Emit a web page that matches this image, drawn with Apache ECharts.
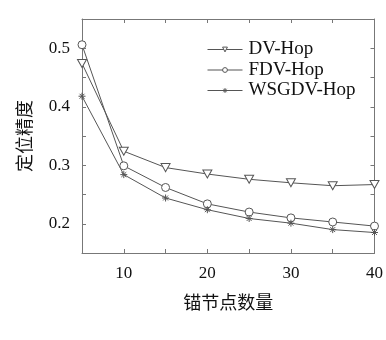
<!DOCTYPE html>
<html>
<head>
<meta charset="utf-8">
<script src="https://cdn.jsdelivr.net/npm/echarts@6/dist/echarts.min.js"></script>
<style>
  html, body { margin: 0; padding: 0; background: #fff; }
  #main { width: 386px; height: 340px; }
</style>
</head>
<body>
<div id="main"></div>
<script>
// 锚节点数量
var anchors = [5, 10, 15, 20, 25, 30, 35, 40];
// 定位精度
var dvHop = [0.474, 0.324, 0.296, 0.285, 0.276, 0.270, 0.265, 0.267];
var fdvHop = [0.506, 0.299, 0.262, 0.234, 0.220, 0.210, 0.203, 0.196];
var wsgdvHop = [0.418, 0.284, 0.244, 0.224, 0.209, 0.201, 0.190, 0.185];

var serif = "Liberation Serif";
var cjk = "Noto Sans CJK SC";
var lineColor = "#555";
var axisColor = "#777";

var triPath = "path://M-1,-0.9L1,-0.9L0,0.9Z";
var starPath = "path://M0,-1L0,1M-1,0L1,0M-0.7,-0.7L0.7,0.7M-0.7,0.7L0.7,-0.7";

function pairs(ys) {
  return anchors.map(function (x, i) { return [x, ys[i]]; });
}

var myChart = echarts.init(document.getElementById("main"), null, { renderer: "canvas" });

var tickStyle = { show: true, inside: true, length: 4, lineStyle: { color: axisColor } };
var frameLine = { show: true, lineStyle: { color: axisColor, width: 1 } };

var option = {
  animation: false,
  grid: { left: 82, right: 6, top: 19, bottom: 87 },
  legend: {
    left: 202,
    top: 35,
    orient: "vertical",
    itemWidth: 35,
    itemHeight: 6,
    itemGap: 1.5,
    itemStyle: { color: "#fff", borderColor: lineColor, borderWidth: 1 },
    lineStyle: { width: 1, color: lineColor },
    textStyle: { fontFamily: serif, fontSize: 19, lineHeight: 18, color: "#111", padding: [0, 0, 0, 1] },
    data: ["DV-Hop", "FDV-Hop", "WSGDV-Hop"]
  },
  xAxis: [
    {
      type: "value",
      min: 5,
      max: 40,
      interval: 5,
      name: "锚节点数量",
      nameLocation: "middle",
      nameGap: 40,
      nameTextStyle: { fontFamily: cjk, fontSize: 18, color: "#111" },
      axisLine: frameLine,
      axisTick: tickStyle,
      splitLine: { show: false },
      axisLabel: {
        fontFamily: serif,
        fontSize: 17,
        color: "#111",
        margin: 12,
        formatter: function (v) { return v % 10 === 0 ? String(v) : ""; }
      }
    },
    {
      type: "value",
      position: "top",
      min: 5,
      max: 40,
      interval: 5,
      axisLine: frameLine,
      axisTick: tickStyle,
      axisLabel: { show: false },
      splitLine: { show: false }
    }
  ],
  yAxis: [
    {
      type: "value",
      min: 0.15,
      max: 0.55,
      interval: 0.05,
      name: "定位精度",
      nameLocation: "middle",
      nameRotate: 90,
      nameGap: 49,
      nameTextStyle: { fontFamily: cjk, fontSize: 18, color: "#111" },
      axisLine: frameLine,
      axisTick: tickStyle,
      splitLine: { show: false },
      axisLabel: {
        fontFamily: serif,
        fontSize: 17,
        color: "#111",
        margin: 12,
        formatter: function (v) {
          var t = v * 10;
          if (Math.abs(t - Math.round(t)) < 1e-6 && v < 0.54) return v.toFixed(1);
          return "";
        }
      }
    },
    {
      type: "value",
      position: "right",
      min: 0.15,
      max: 0.55,
      interval: 0.05,
      axisLine: frameLine,
      axisTick: tickStyle,
      axisLabel: { show: false },
      splitLine: { show: false }
    }
  ],
  series: [
    {
      name: "DV-Hop",
      type: "line",
      data: pairs(dvHop),
      symbol: triPath,
      symbolSize: [9, 8],
      lineStyle: { color: lineColor, width: 1 },
      itemStyle: { color: "#fff", borderColor: lineColor, borderWidth: 1 }
    },
    {
      name: "FDV-Hop",
      type: "line",
      data: pairs(fdvHop),
      symbol: "circle",
      symbolSize: 8,
      lineStyle: { color: lineColor, width: 1 },
      itemStyle: { color: "#fff", borderColor: lineColor, borderWidth: 1 }
    },
    {
      name: "WSGDV-Hop",
      type: "line",
      data: pairs(wsgdvHop),
      symbol: starPath,
      symbolSize: 7,
      lineStyle: { color: lineColor, width: 1 },
      itemStyle: { color: lineColor, borderColor: lineColor, borderWidth: 1 }
    }
  ]
};

myChart.setOption(option);
</script>
</body>
</html>
